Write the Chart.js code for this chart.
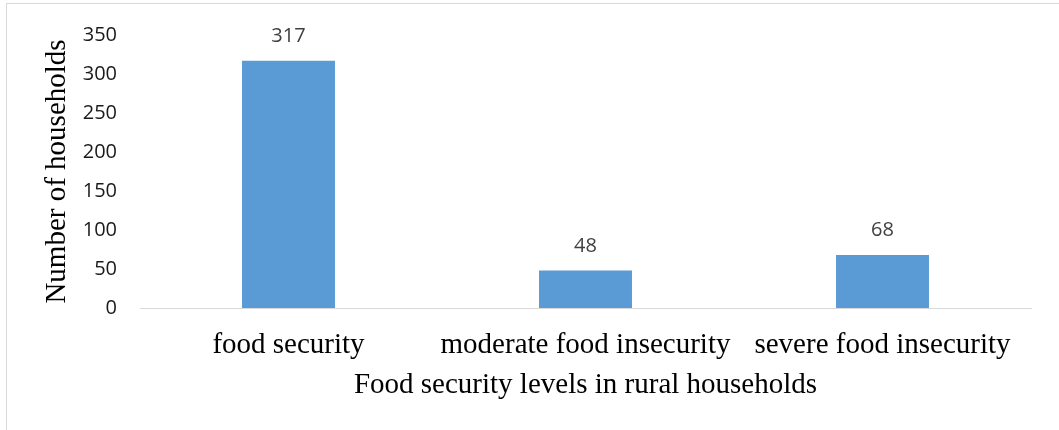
<!DOCTYPE html>
<html>
<head>
<meta charset="utf-8">
<script src="https://cdn.jsdelivr.net/npm/chart.js@4/dist/chart.umd.min.js"></script>
<style>
  html, body { margin: 0; padding: 0; background: #fff; }
  #wrap { position: relative; width: 1059px; height: 430px; }
  #frame { position: absolute; left: 6px; top: 3px; right: 0; bottom: 0;
           border-top: 1px solid #d9d9d9; border-left: 1px solid #d9d9d9; pointer-events: none; }
</style>
</head>
<body>
<div id="wrap">
  <canvas id="c" width="1059" height="430"></canvas>
  <div id="frame"></div>
</div>
<script>
const categories = ["food security", "moderate food insecurity", "severe food insecurity"];
const households = [317, 48, 68];
const yTicks = [0, 50, 100, 150, 200, 250, 300, 350];
const xTitle = "Food security levels in rural households";
const yTitle = "Number of households";

const valueLabels = {
  id: 'valueLabels',
  afterDatasetsDraw(chart) {
    const ctx = chart.ctx;
    const meta = chart.getDatasetMeta(0);
    ctx.save();
    ctx.font = '20px "Open Sans"';
    ctx.fillStyle = '#404040';
    ctx.textAlign = 'center';
    ctx.textBaseline = 'alphabetic';
    meta.data.forEach((bar, i) => {
      ctx.fillText(String(chart.data.datasets[0].data[i]), bar.x, bar.y - 19);
    });
    ctx.restore();
  }
};

new Chart(document.getElementById('c'), {
  type: 'bar',
  data: {
    labels: categories,
    datasets: [{
      data: households,
      backgroundColor: '#5B9BD5',
      borderWidth: 0,
      categoryPercentage: 1.0,
      barPercentage: 0.313
    }]
  },
  options: {
    responsive: false,
    animation: false,
    events: [],
    layout: { padding: { top: 32, right: 28, left: 0, bottom: 0 } },
    plugins: { legend: { display: false }, tooltip: { enabled: false } },
    scales: {
      x: {
        afterFit(s) { s.height = 122; },
        grid: { display: false, drawTicks: false },
        border: { display: true, color: '#d9d9d9', width: 1 },
        ticks: {
          padding: 20,
          color: '#000',
          font: { family: '"Liberation Serif"', size: 29 },
          maxRotation: 0, autoSkip: false
        },
        title: {
          display: true, text: xTitle, color: '#000',
          font: { family: '"Liberation Serif"', size: 29 },
          padding: { top: 0, bottom: 27 }
        }
      },
      y: {
        min: 0, max: 350,
        afterFit(s) { s.width = 140; },
        afterBuildTicks(s) { s.ticks = yTicks.map(v => ({ value: v })); },
        grid: { display: false, drawTicks: false },
        border: { display: false },
        ticks: {
          padding: 23,
          color: '#1a1a1a',
          font: { family: '"Open Sans"', size: 20 }
        },
        title: {
          display: true, text: yTitle, color: '#000',
          font: { family: '"Liberation Serif"', size: 29 },
          padding: { top: 39.6, bottom: 0 }
        }
      }
    }
  },
  plugins: [valueLabels]
});
</script>
</body>
</html>
